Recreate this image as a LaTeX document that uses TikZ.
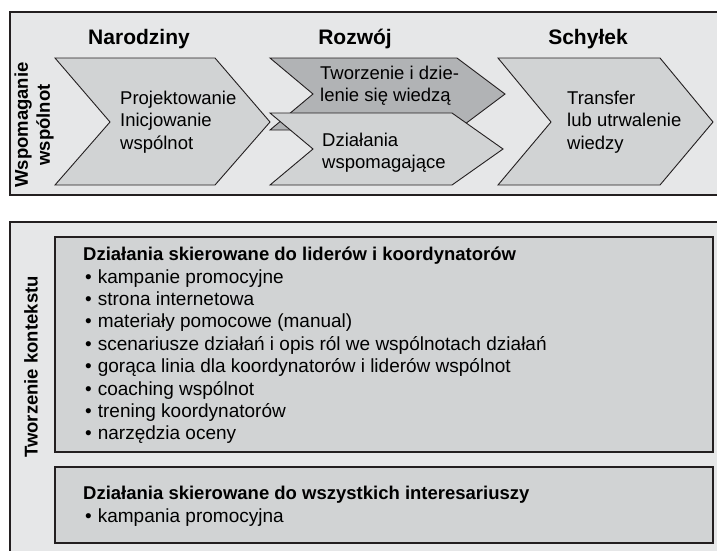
\documentclass[tikz,border=0pt]{standalone}
\usepackage{fontspec}
\setmainfont{Liberation Sans}
\definecolor{tlo}{HTML}{E6E7E8}
\definecolor{szary}{HTML}{D1D3D4}
\definecolor{ciemny}{HTML}{B1B3B5}
\definecolor{ramka}{HTML}{231F20}
\newcommand{\pkt}{\hspace*{2pt}\textbullet\hspace{6pt}}

\begin{document}
\begin{tikzpicture}[x=1pt, y=-1pt,
panel/.style={draw=ramka, line width=1.8pt, fill=tlo},
skrzynka/.style={draw=ramka, line width=2pt, fill=szary},
chev/.style={draw=ramka, line width=0.9pt, fill=szary, line join=miter},
naglowek/.style={font=\fontsize{21}{25}\selectfont\bfseries},
opis/.style={font=\fontsize{18.5}{22.4}\selectfont, align=left, inner sep=0pt},
lista/.style={opis, font=\fontsize{19}{22.4}\selectfont},
bok/.style={font=\fontsize{18.5}{22}\selectfont\bfseries, rotate=90, align=center, inner sep=0pt}]

 \clip (0,0) rectangle (717,550);
 \fill[white] (0,0) rectangle (717,550);

 % panele
 \draw[panel] (10,12) rectangle (724,195);
 \draw[panel] (10,222) rectangle (724,560);
 \draw[skrzynka] (55,237) rectangle (713,452);
 \draw[skrzynka] (55,467) rectangle (713,543);

 % strzalki faz
 \draw[chev] (55,58) -- (215,58) -- (270,122) -- (215,185) -- (55,185) -- (110,122) -- cycle;
 \draw[chev, fill=ciemny] (270,58) -- (457,58) -- (505,94) -- (457,130) -- (270,130) -- (313,94) -- cycle;
 \draw[chev] (270,113) -- (452,113) -- (503,149) -- (452,185) -- (270,185) -- (313,149) -- cycle;
 \draw[chev] (498,58) -- (660,58) -- (713,122) -- (660,185) -- (498,185) -- (551,122) -- cycle;

 \node[naglowek] (narodziny) at (139,39) {Narodziny};
 \node[naglowek] (rozwoj) at (355,39) {Rozwój};
 \node[naglowek] (schylek) at (588,39) {Schyłek};

 \node[bok] (wspomaganie) at (34,125) {Wspomaganie\\wspólnot};
 \node[bok] (kontekst) at (31,367) {Tworzenie kontekstu};

 \node[opis, anchor=west] (projekt) at (120,122) {Projektowanie\\Inicjowanie\\wspólnot};
 \node[opis, anchor=west] (tworzenie) at (320,86) {Tworzenie i dzie-\\lenie się wiedzą};
 \node[opis, anchor=west] (wspomag) at (322,153) {Działania\\wspomagające};
 \node[opis, anchor=west] (transfer) at (567,122) {Transfer\\lub utrwalenie\\wiedzy};

 \node[lista, anchor=north west] (liderzy) at (83,247) {{\fontsize{18.5}{22.4}\selectfont\bfseries Działania skierowane do liderów i koordynatorów}\\
  \pkt kampanie promocyjne\\
  \pkt strona internetowa\\
  \pkt materiały pomocowe (manual)\\
  \pkt scenariusze działań i opis ról we wspólnotach działań\\
  \pkt gorąca linia dla koordynatorów i liderów wspólnot\\
  \pkt coaching wspólnot\\
  \pkt trening koordynatorów\\
  \pkt narzędzia oceny};
 \node[lista, anchor=north west] (wszyscy) at (83,486) {{\fontsize{18.5}{22.4}\selectfont\bfseries Działania skierowane do wszystkich interesariuszy}\\
  \pkt kampania promocyjna};
\end{tikzpicture}
\end{document}
